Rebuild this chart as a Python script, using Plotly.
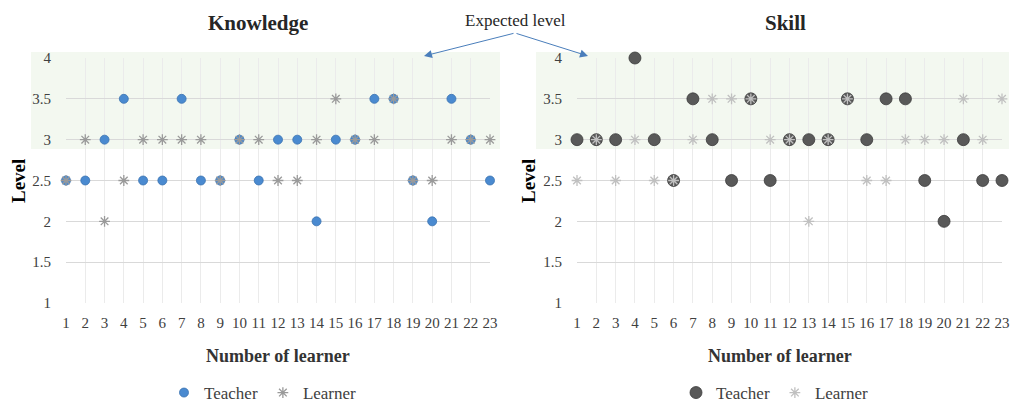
import plotly.graph_objects as go

learners = list(range(1, 24))
know_teacher = [2.5, 2.5, 3, 3.5, 2.5, 2.5, 3.5, 2.5, 2.5, 3, 2.5, 3, 3, 2, 3, 3, 3.5, 3.5, 2.5, 2, 3.5, 3, 2.5]
know_learner = [2.5, 3, 2, 2.5, 3, 3, 3, 3, 2.5, 3, 3, 2.5, 2.5, 3, 3.5, 3, 3, 3.5, 2.5, 2.5, 3, 3, 3]
skill_teacher = [3, 3, 3, 4, 3, 2.5, 3.5, 3, 2.5, 3.5, 2.5, 3, 3, 3, 3.5, 3, 3.5, 3.5, 2.5, 2, 3, 2.5, 2.5]
skill_learner = [2.5, 3, 2.5, 3, 2.5, 2.5, 3, 3.5, 3.5, 3.5, 3, 3, 2, 3, 3.5, 2.5, 2.5, 3, 3, 3, 3.5, 3, 3.5]
y_ticks = [1, 1.5, 2, 2.5, 3, 3.5, 4]

W, H = 1012, 420  # page window is 406 high; extra rows fall below the view
FONT = "Liberation Serif"

def px_x(p):
    return p / W

def px_y(p):
    return (H - p) / H

fig = go.Figure()

fig.add_trace(go.Scatter(x=learners, y=know_teacher, mode="markers", name="Teacher",
                         marker=dict(symbol="circle", size=9, color="#4a8ad0",
                                     line=dict(color="#3a72b0", width=0.8)),
                         cliponaxis=False, xaxis="x", yaxis="y", legend="legend"))
fig.add_trace(go.Scatter(x=learners, y=know_learner, mode="markers", name="Learner",
                         marker=dict(symbol="asterisk-open", size=9, color="#9a9a9a",
                                     line=dict(color="#9a9a9a", width=1.3)),
                         cliponaxis=False, xaxis="x", yaxis="y", legend="legend"))
fig.add_trace(go.Scatter(x=learners, y=skill_teacher, mode="markers", name="Teacher",
                         marker=dict(symbol="circle", size=12, color="#595959",
                                     line=dict(color="#3a3a3a", width=0.8)),
                         cliponaxis=False, xaxis="x2", yaxis="y2", legend="legend2"))
fig.add_trace(go.Scatter(x=learners, y=skill_learner, mode="markers", name="Learner",
                         marker=dict(symbol="asterisk-open", size=9, color="#c0c0c0",
                                     line=dict(color="#c0c0c0", width=1.3)),
                         cliponaxis=False, xaxis="x2", yaxis="y2", legend="legend2"))

ydom = [px_y(303), px_y(58)]
xaxis_common = dict(range=[1, 23], tickmode="array", tickvals=learners,
                    ticktext=[str(v) for v in learners], showgrid=True,
                    gridcolor="#ebebeb", gridwidth=1, zeroline=False, showline=False,
                    ticks="", ticklabelstandoff=9, automargin=False,
                    tickfont=dict(family=FONT, size=15, color="#404040"))
yaxis_common = dict(range=[1, 4], tickmode="array", tickvals=y_ticks,
                    ticktext=[str(v) for v in y_ticks], showgrid=True,
                    gridcolor="#d9d9d9", gridwidth=1, zeroline=False, showline=False,
                    ticks="", ticklabelstandoff=14, domain=ydom, automargin=False,
                    tickfont=dict(family=FONT, size=15, color="#404040"))

fig.update_layout(
    width=W, height=H,
    margin=dict(l=0, r=0, t=0, b=0),
    paper_bgcolor="white",
    plot_bgcolor="rgba(0,0,0,0)",
    xaxis=dict(domain=[px_x(66), px_x(490)], anchor="y", **xaxis_common),
    yaxis=dict(anchor="x", **yaxis_common),
    xaxis2=dict(domain=[px_x(577), px_x(1002)], anchor="y2", **xaxis_common),
    yaxis2=dict(anchor="x2", **yaxis_common),
    legend=dict(orientation="h", x=px_x(263), xanchor="center", y=px_y(393), yanchor="middle",
                font=dict(family=FONT, size=17, color="#404040"), bgcolor="rgba(0,0,0,0)",
                itemwidth=30, tracegroupgap=0),
    legend2=dict(orientation="h", x=px_x(775), xanchor="center", y=px_y(393), yanchor="middle",
                 font=dict(family=FONT, size=17, color="#404040"), bgcolor="rgba(0,0,0,0)",
                 itemwidth=30, tracegroupgap=0),
    showlegend=True,
)

# expected level bands
fig.add_shape(type="rect", xref="paper", yref="paper",
              x0=px_x(31), x1=px_x(500), y0=px_y(149), y1=px_y(52),
              fillcolor="#f3f8f0", line=dict(width=0), layer="below")
fig.add_shape(type="rect", xref="paper", yref="paper",
              x0=px_x(536), x1=px_x(1009), y0=px_y(149), y1=px_y(52),
              fillcolor="#f3f8f0", line=dict(width=0), layer="below")

# titles
fig.add_annotation(text="<b>Knowledge</b>", xref="paper", yref="paper", x=px_x(258), y=px_y(23),
                   showarrow=False, font=dict(family=FONT, size=21, color="#262626"),
                   xanchor="center", yanchor="middle")
fig.add_annotation(text="<b>Skill</b>", xref="paper", yref="paper", x=px_x(785), y=px_y(23),
                   showarrow=False, font=dict(family=FONT, size=21, color="#262626"),
                   xanchor="center", yanchor="middle")
fig.add_annotation(text="Expected level", xref="paper", yref="paper", x=px_x(515), y=px_y(20),
                   showarrow=False, font=dict(family=FONT, size=17, color="#262626"),
                   xanchor="center", yanchor="middle")

# axis titles
for cx in (278, 780):
    fig.add_annotation(text="<b>Number of learner</b>", xref="paper", yref="paper",
                       x=px_x(cx), y=px_y(356), showarrow=False,
                       font=dict(family=FONT, size=18, color="#333333"),
                       xanchor="center", yanchor="middle")
for cx in (18, 528):
    fig.add_annotation(text="<b>Level</b>", xref="paper", yref="paper",
                       x=px_x(cx), y=px_y(181), showarrow=False, textangle=-90,
                       font=dict(family=FONT, size=19, color="#000000"),
                       xanchor="center", yanchor="middle")

# arrows
for hx in (424, 588):
    fig.add_annotation(text="", xref="paper", yref="paper", x=px_x(hx), y=px_y(56),
                       axref="pixel", ayref="pixel", ax=515 - hx, ay=33 - 56,
                       showarrow=True, arrowhead=2, arrowsize=1.6, arrowwidth=1,
                       arrowcolor="#4a7ebb")

fig.write_html("out.html", config={"displayModeBar": False},
               post_script="document.body.style.margin='0px';"
                           "document.body.style.overflow='hidden';"
                           "document.documentElement.style.overflow='hidden';")
